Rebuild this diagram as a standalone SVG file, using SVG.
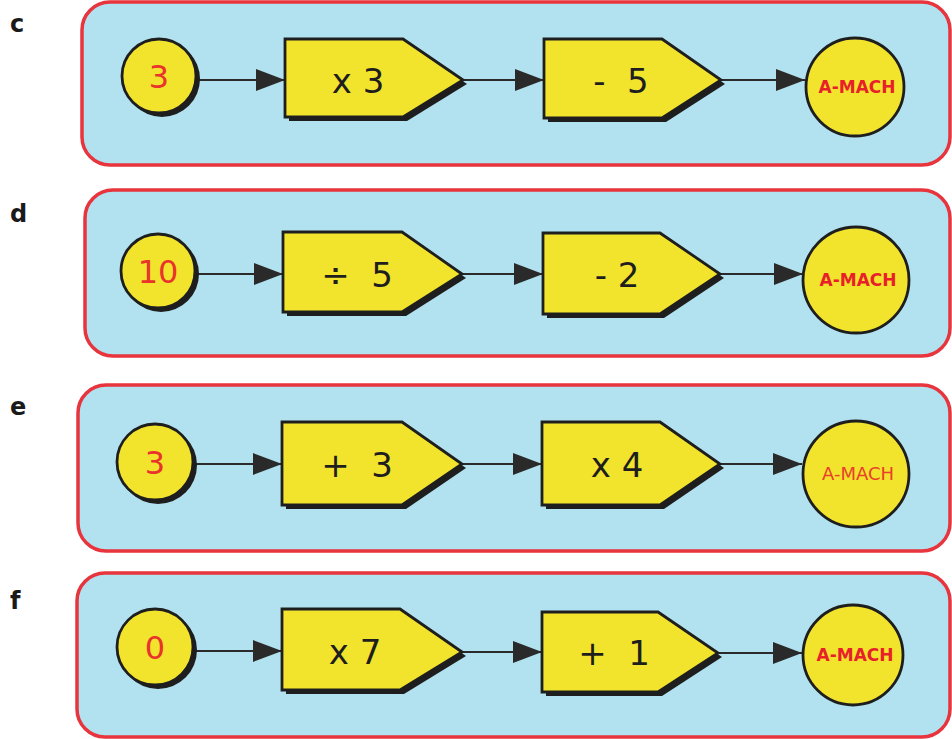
<svg xmlns="http://www.w3.org/2000/svg" width="952" height="739" viewBox="0 0 952 739">
<defs>
<style>
.panel{fill:#b2e2f0;stroke:#e8343c;stroke-width:3.5}
.node{fill:#f2e42c;stroke:#1e1e1e;stroke-width:2.8;stroke-linejoin:miter}
.shadow{fill:#1e1e1e}
.lbl{font-family:"DejaVu Sans",sans-serif;font-weight:bold;font-size:24px;fill:#1a1a1a}
.num{font-family:"DejaVu Sans",sans-serif;font-size:32px;fill:#e8342a;text-anchor:middle}
.op{font-family:"DejaVu Sans",sans-serif;font-size:34px;fill:#1e1e1e;text-anchor:middle;white-space:pre}
.out{font-family:"DejaVu Sans",sans-serif;font-weight:bold;font-size:17px;fill:#e8202a;text-anchor:middle}
.out2{font-family:"DejaVu Sans",sans-serif;font-size:18px;fill:#e8402a;text-anchor:middle}
.conn{stroke:#2a2a2a;stroke-width:2;fill:none;marker-end:url(#arr)}
</style>
<marker id="arr" markerUnits="userSpaceOnUse" markerWidth="30" markerHeight="22" refX="29" refY="11" orient="auto">
<path d="M0,0 L29,11 L0,22 Z" fill="#2a2a2a"/>
</marker>
</defs>

<g id="labels">
<text class="lbl" x="10" y="32">c</text>
<text class="lbl" x="10" y="222">d</text>
<text class="lbl" x="10" y="415">e</text>
<text class="lbl" x="10" y="609">f</text>
</g>

<g id="panels">
<rect class="panel" x="82" y="2" width="868" height="163" rx="28"/>
<rect class="panel" x="85" y="190" width="865" height="166" rx="28"/>
<rect class="panel" x="78" y="385" width="872" height="166" rx="28"/>
<rect class="panel" x="77" y="573" width="873" height="164" rx="28"/>
</g>

<g id="connectors">
<line class="conn" x1="197" y1="80" x2="285" y2="80"/>
<line class="conn" x1="463" y1="80" x2="544" y2="80"/>
<line class="conn" x1="721" y1="80" x2="805" y2="80"/>

<line class="conn" x1="197" y1="274" x2="283" y2="274"/>
<line class="conn" x1="462" y1="274" x2="543" y2="274"/>
<line class="conn" x1="720" y1="274" x2="803" y2="274"/>

<line class="conn" x1="194" y1="464" x2="282" y2="464"/>
<line class="conn" x1="462" y1="464" x2="542" y2="464"/>
<line class="conn" x1="720" y1="464" x2="802" y2="464"/>

<line class="conn" x1="194" y1="651" x2="282" y2="651"/>
<line class="conn" x1="462" y1="652" x2="542" y2="652"/>
<line class="conn" x1="718" y1="653" x2="802" y2="653"/>
</g>

<!-- Row c -->
<g id="c-in">
<circle class="shadow" cx="162" cy="79" r="38"/>
<circle class="node" cx="159" cy="76" r="37"/>
<text class="num" x="159" y="88">3</text>
</g>
<g id="c-op1">
<path class="shadow" d="M289,43 L407,43 L467,84 L407,121 L289,121 Z"/>
<path class="node" d="M285,39 L403,39 L463,80 L403,117 L285,117 Z"/>
<text class="op" x="358" y="93">x 3</text>
</g>
<g id="c-op2">
<path class="shadow" d="M548,43 L666,43 L725,84 L666,122 L548,122 Z"/>
<path class="node" d="M544,39 L662,39 L721,80 L662,118 L544,118 Z"/>
<text class="op" x="621" y="93">-  5</text>
</g>
<g id="c-out">
<circle class="node" cx="855" cy="87" r="49"/>
<text class="out" x="857" y="93">A-MACH</text>
</g>

<!-- Row d -->
<g id="d-in">
<circle class="shadow" cx="161" cy="274" r="38"/>
<circle class="node" cx="158" cy="271" r="37"/>
<text class="num" x="158" y="283">10</text>
</g>
<g id="d-op1">
<path class="shadow" d="M287,236 L406,236 L466,278 L406,316 L287,316 Z"/>
<path class="node" d="M283,232 L402,232 L462,274 L402,312 L283,312 Z"/>
<text class="op" x="357" y="287">÷  5</text>
</g>
<g id="d-op2">
<path class="shadow" d="M547,237 L664,237 L724,278 L664,318 L547,318 Z"/>
<path class="node" d="M543,233 L660,233 L720,274 L660,314 L543,314 Z"/>
<text class="op" x="617" y="287">- 2</text>
</g>
<g id="d-out">
<circle class="node" cx="856" cy="280" r="53"/>
<text class="out" x="858" y="286">A-MACH</text>
</g>

<!-- Row e -->
<g id="e-in">
<circle class="shadow" cx="158" cy="465" r="39"/>
<circle class="node" cx="155" cy="462" r="38"/>
<text class="num" x="155" y="474">3</text>
</g>
<g id="e-op1">
<path class="shadow" d="M286,426 L406,426 L466,468 L406,509 L286,509 Z"/>
<path class="node" d="M282,422 L402,422 L462,464 L402,505 L282,505 Z"/>
<text class="op" x="357" y="477">+  3</text>
</g>
<g id="e-op2">
<path class="shadow" d="M546,426 L664,426 L724,468 L664,509 L546,509 Z"/>
<path class="node" d="M542,422 L660,422 L720,464 L660,505 L542,505 Z"/>
<text class="op" x="617" y="477">x 4</text>
</g>
<g id="e-out">
<circle class="node" cx="856" cy="474" r="53"/>
<text class="out2" x="858" y="480">A-MACH</text>
</g>

<!-- Row f -->
<g id="f-in">
<circle class="shadow" cx="158" cy="650" r="39"/>
<circle class="node" cx="155" cy="647" r="38"/>
<text class="num" x="155" y="659">0</text>
</g>
<g id="f-op1">
<path class="shadow" d="M286,613 L404,613 L466,656 L404,694 L286,694 Z"/>
<path class="node" d="M282,609 L400,609 L462,652 L400,690 L282,690 Z"/>
<text class="op" x="355" y="664">x 7</text>
</g>
<g id="f-op2">
<path class="shadow" d="M546,616 L662,616 L722,657 L662,696 L546,696 Z"/>
<path class="node" d="M542,612 L658,612 L718,653 L658,692 L542,692 Z"/>
<text class="op" x="614" y="665">+  1</text>
</g>
<g id="f-out">
<circle class="node" cx="853" cy="655" r="50"/>
<text class="out" x="855" y="661">A-MACH</text>
</g>
</svg>
